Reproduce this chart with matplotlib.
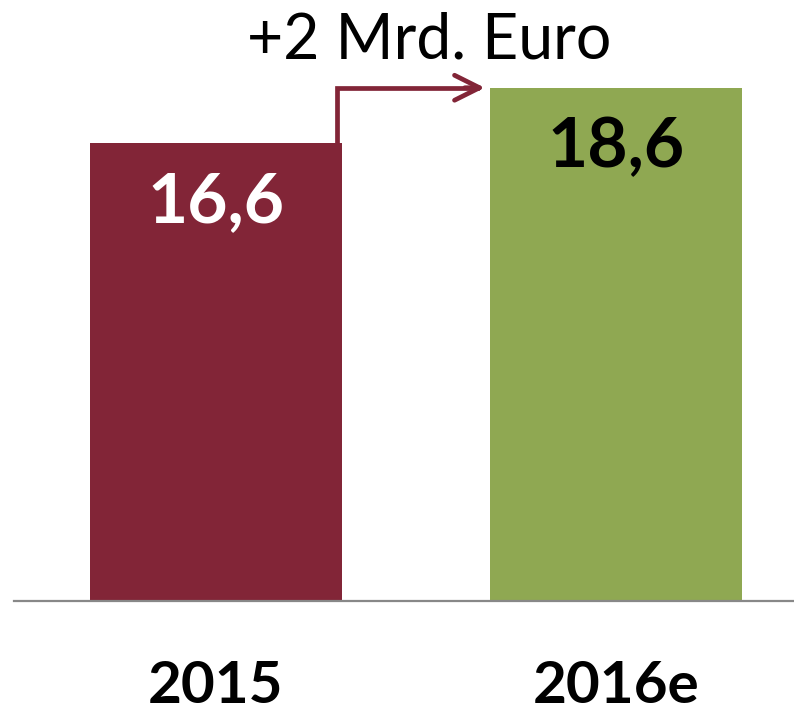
import matplotlib.pyplot as plt

years = ["2015", "2016e"]
values = [16.6, 18.6]
labels = ["16,6", "18,6"]
colors = ["#822537", "#8fa852"]
label_colors = ["white", "black"]

plt.rcParams['font.family'] = ['Lato', 'DejaVu Sans']

fig = plt.figure(figsize=(7.94, 7.07), dpi=100)
ax = fig.add_axes([14 / 794, 106 / 707, 780 / 794, 601 / 707])

x = range(len(years))
width = 0.628
ax.bar(x, values, width=width, color=colors, zorder=2)

ax.set_xlim(-0.505, 1.445)
ax.set_ylim(0, 21.78)

# value labels in the bars, years under the axis
for i, v in enumerate(values):
    ax.text(i, v - 2.17, labels[i], ha='center', va='center',
            fontsize=50, fontweight='bold', color=label_colors[i])
    ax.text(i, -3.1, years[i], ha='center', va='center',
            fontsize=42, fontweight='bold', color='black', clip_on=False)

# step arrow from 2015 to 2016e
xv = width / 2 - 0.012
tip = 1 - width / 2 - 0.014
ax.plot([xv, xv, tip - 0.02], [values[0], values[1], values[1]],
        color=colors[0], lw=3.4, solid_joinstyle='miter', zorder=3)
ax.annotate("", xy=(tip, values[1]), xytext=(tip - 0.05, values[1]),
            arrowprops=dict(arrowstyle='->,head_length=0.9,head_width=0.45',
                            color=colors[0], lw=3.4, mutation_scale=20,
                            shrinkA=0, shrinkB=0))
diff = values[1] - values[0]
ax.text((xv + tip) / 2 + 0.045, 20.3, "+%d Mrd. Euro" % round(diff),
        ha='center', va='center', fontsize=45, color='black')

for s in ['top', 'left', 'right']:
    ax.spines[s].set_visible(False)
ax.spines['bottom'].set_color('#888888')
ax.spines['bottom'].set_linewidth(1.6)
ax.set_xticks([])
ax.set_yticks([])

fig.savefig("out.png", dpi=100)
